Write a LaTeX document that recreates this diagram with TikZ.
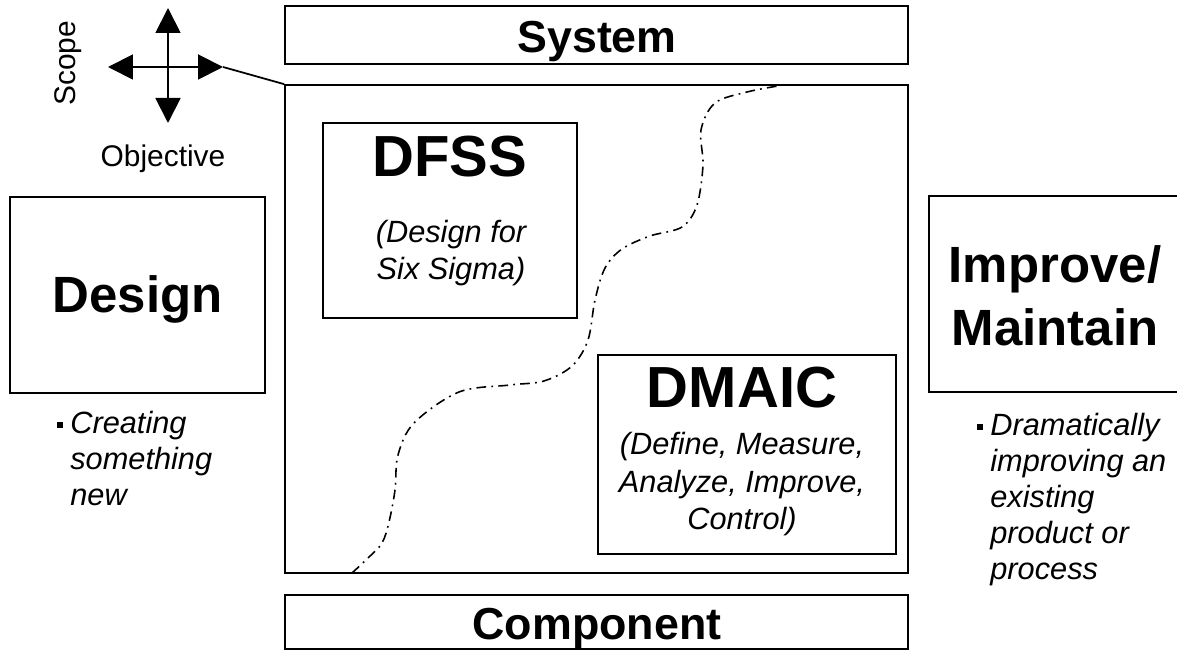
\documentclass[tikz,border=0pt]{standalone}
\usepackage{fontspec}
\setmainfont{Liberation Sans}
\usetikzlibrary{arrows.meta}
\newcommand{\sqb}{\raisebox{3.2pt}{\rule{3.2pt}{3.2pt}}\hspace{4.2pt}}
\tikzset{
	box/.style={draw, line width=1pt, inner sep=0pt},
	big/.style={font=\bfseries\fontsize{33}{36}\selectfont, anchor=base},
	mid/.style={font=\bfseries\fontsize{29}{36}\selectfont, anchor=base},
	bar/.style={font=\bfseries\fontsize{25.5}{30}\selectfont, anchor=base},
	note/.style={font=\itshape\fontsize{17.5}{21.6}\selectfont, align=center, anchor=base, inner sep=0pt},
	bullet/.style={font=\itshape\fontsize{17.5}{20.6}\selectfont, align=left, anchor=base west, inner sep=0pt},
	plain/.style={font=\fontsize{17}{20}\selectfont, anchor=base},
	cross/.style={line width=1.1pt, -{Triangle[length=0.5cm, width=0.5cm]}},
	wave/.style={line width=0.9pt, dash pattern=on 5.5pt off 3pt on 1pt off 3pt}
}

\begin{document}
\begin{tikzpicture}[x=0.02cm, y=-0.02cm]
	\clip (0,0) rectangle (1177,651);
	\node [box, minimum width=12.46cm, minimum height=1.16cm] (sys) at (596.5,35) {};
	\node [box, minimum width=12.46cm, minimum height=9.76cm] (main) at (596.5,329) {};
	\node [box, minimum width=12.46cm, minimum height=1.08cm] (comp) at (596.5,622) {};
	\node [box, minimum width=5.08cm, minimum height=3.9cm] (dfss) at (450,220.5) {};
	\node [box, minimum width=5.96cm, minimum height=3.98cm] (dmaic) at (747,454.5) {};
	\node [box, minimum width=5.1cm, minimum height=3.92cm] (des) at (137.5,295) {};
	\node [box, minimum width=5.06cm, minimum height=3.92cm] (imp) at (1055.5,294) {};

	\node [bar] (systxt) at (597,53) {System};
	\node [bar] (comptxt) at (597,640) {Component};
	\node [big] (dfsstxt) at (450,177) {DFSS};
	\node [note] (dfssnote) at (451,280) {(Design for\\Six Sigma)};
	\node [big] (dmaictxt) at (742,408) {DMAIC};
	\node [note] (dmaicnote) at (742,530) {(Define, Measure,\\Analyze, Improve,\\Control)};
	\node [mid] (destxt) at (137.5,313) {Design};
	\node [mid, align=center] (imptxt) at (1055,346) {Improve/\\Maintain};
	\node [bullet] (desnote) at (70,506) {\llap{\sqb}Creating\\something\\new};
	\node [bullet] (impnote) at (990,580)
	{\llap{\sqb}Dramatically\\improving an\\existing\\product or\\process};

	\node [plain, rotate=90] (scope) at (75,63.5) {Scope};
	\node [plain] (obj) at (163,167) {Objective};
	\coordinate (c) at (168,67);
	\coordinate (cn) at (168,8);
	\coordinate (cs) at (168,123);
	\coordinate (cw) at (108,67);
	\coordinate (ce) at (223,67);
	\draw [cross] (c) -- (cn);
	\draw [cross] (c) -- (cs);
	\draw [cross] (c) -- (cw);
	\draw [cross] (c) -- (ce);
	\draw [line width=1pt] (ce) -- (main.north west);

	\draw [wave] plot [smooth, tension=0.55] coordinates
	{(352,573) (368,558) (382,543) (389,522) (395,490) (398,455) (414,423)
	(459,392) (510,385) (544,381) (572,366) (588,340) (595,300) (605,268)
	(622,249) (650,236) (682,227) (697,205) (703,165) (701,130) (715,103)
	(747,92) (778,86)};
\end{tikzpicture}
\end{document}
